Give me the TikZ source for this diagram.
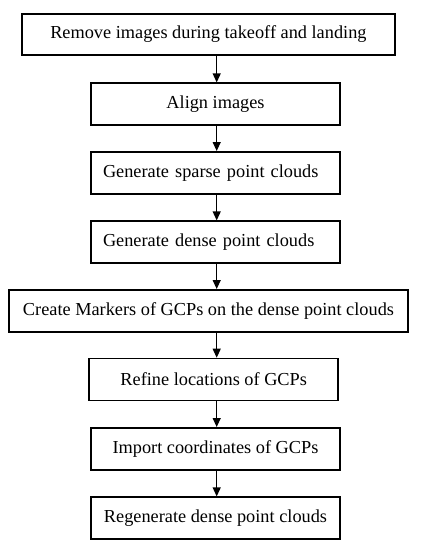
\documentclass[tikz,border=0pt]{standalone}
\usepackage{fontspec}
\setmainfont{Liberation Serif}
\usepackage{tikz}
\usetikzlibrary{arrows.meta}
\tikzset{
  stepbox/.style={draw, line width=1.6pt, minimum height=42pt, inner sep=0pt,
                  font=\fontsize{18.3}{22}\selectfont},
  leftbox/.style={stepbox, text width=225pt, inner xsep=12pt, align=left},
  flow/.style={line width=1.2pt, -{Triangle[width=8pt, length=9pt]}}
}

\begin{document}
\begin{tikzpicture}[x=1pt, y=-1pt]
    \useasboundingbox (0,0) rectangle (421,550);
    \node[stepbox, minimum width=373pt, minimum height=41pt] (remove) at (208.4,34.5) {Remove images during takeoff and landing};
    \node[stepbox, minimum width=249pt] (align) at (215.5,104.2) {Align images};
    \node[leftbox] (sparse) at (215.5,172.8) {Generate sparse point clouds};
    \node[leftbox] (dense) at (215.5,242.2) {Generate dense point clouds};
    \node[stepbox, minimum width=399pt] (markers) at (208.5,310.8) {Create Markers of GCPs on the dense point clouds};
    \node[stepbox, minimum width=249pt] (refine) at (213.7,379.5) {Refine locations of GCPs};
    \node[stepbox, minimum width=249pt] (import) at (215.5,448.8) {Import coordinates of GCPs};
    \node[stepbox, minimum width=249pt] (regen) at (215.5,518.2) {Regenerate dense point clouds};

    \coordinate (axis) at (216.7,0);
    \foreach \a/\b in {remove/align, align/sparse, sparse/dense, dense/markers,
                       markers/refine, refine/import, import/regen}
      \draw[flow] (\a.south -| axis) -- (\b.north -| axis);
\end{tikzpicture}
\end{document}
